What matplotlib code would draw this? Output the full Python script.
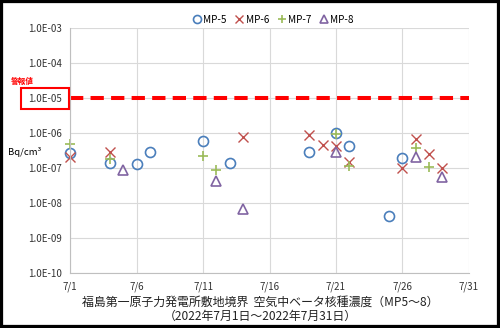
import numpy as np
import matplotlib
matplotlib.use("Agg")
import matplotlib.pyplot as plt
import matplotlib.patches as patches
from matplotlib.ticker import FixedLocator, FuncFormatter

plt.rcParams['font.family'] = ['Noto Sans CJK JP', 'DejaVu Sans']

# day of July and concentration (Bq/cm3) for each monitoring post
mp5_days = [1, 4, 6, 7, 11, 13, 19, 21, 22, 25, 26]
mp5_vals = [2.7e-7, 1.4e-7, 1.3e-7, 2.9e-7, 6.0e-7, 1.4e-7, 2.9e-7, 1.0e-6, 4.2e-7, 4.4e-9, 2.0e-7]
mp6_days = [1, 4, 14, 19, 20, 21, 22, 26, 27, 28, 29]
mp6_vals = [2.1e-7, 3.0e-7, 8.0e-7, 8.9e-7, 4.6e-7, 4.3e-7, 1.5e-7, 1.0e-7, 6.9e-7, 2.5e-7, 1.0e-7]
mp7_days = [1, 4, 11, 12, 21, 22, 27, 28]
mp7_vals = [4.9e-7, 1.9e-7, 2.2e-7, 8.9e-8, 9.5e-7, 1.2e-7, 3.7e-7, 1.1e-7]
mp8_days = [5, 12, 14, 21, 27, 29]
mp8_vals = [9.0e-8, 4.4e-8, 6.7e-9, 3.0e-7, 2.1e-7, 5.8e-8]

alarm_level = 1.0e-5
x_ticks = [1, 6, 11, 16, 21, 26, 31]
x_labels = ["7/%d" % d for d in x_ticks]
y_ticks = [1e-10, 1e-9, 1e-8, 1e-7, 1e-6, 1e-5, 1e-4, 1e-3]

fig = plt.figure(figsize=(5.0, 3.28), dpi=100)
ax = fig.add_axes([0.1406, 0.1668, 0.7968, 0.7469])

ms = 7.2
kw = dict(ls='none', ms=ms, clip_on=False)
ax.plot(mp5_days, mp5_vals, 'o', mfc='none', mec='#4A7EBB', mew=1.2, label='MP-5', **kw)
ax.plot(mp6_days, mp6_vals, 'x', mec='#C0504D', mew=1.0, label='MP-6', **kw)
ax.plot(mp7_days, mp7_vals, '+', mec='#9BBB59', mew=1.2, label='MP-7', **kw)
ax.plot(mp8_days, mp8_vals, '^', mfc='none', mec='#8064A2', mew=1.2, label='MP-8', **kw)

# alarm threshold
ax.axhline(alarm_level, color='#FF0000', lw=2.9, dashes=(3.3, 1.8), zorder=1)

ax.set_yscale('log')
ax.set_ylim(1e-10, 1e-3)
ax.set_xlim(1, 31)
ax.yaxis.set_major_locator(FixedLocator(y_ticks))
ax.yaxis.set_minor_locator(FixedLocator([]))
ax.yaxis.set_major_formatter(FuncFormatter(lambda v, p: "1.0E-%02d" % round(-np.log10(v))))
ax.set_xticks(x_ticks)
ax.set_xticklabels(x_labels)
ax.tick_params(length=0, labelsize=7, pad=6, labelcolor='#333333')
ax.grid(True, color='#D9D9D9', lw=0.8)
ax.set_axisbelow(True)
for side in ['top', 'right']:
    ax.spines[side].set_visible(False)
for side in ['left', 'bottom']:
    ax.spines[side].set_color('#BFBFBF')
    ax.spines[side].set_linewidth(0.8)

fig.text(0.016, 0.537, "Bq/cm³", fontsize=6.8, va='center', ha='left')
fig.text(0.022, 0.753, "警報値", fontsize=5.5, color='#FF0000', weight='bold', va='center', ha='left')
fig.patches.append(patches.Rectangle((0.042, 0.668), 0.096, 0.064, transform=fig.transFigure,
                                     fill=False, ec='#FF0000', lw=1.5))

fig.legend(loc='center', bbox_to_anchor=(0.545, 0.94), ncol=4, frameon=False, fontsize=7.2,
           handletextpad=0.1, columnspacing=0.7, handlelength=1.1, markerscale=0.8)

fig.text(0.52, 0.079, "福島第一原子力発電所敷地境界  空気中ベータ核種濃度（MP5～8）", fontsize=8.6,
         ha='center', va='center', color='#222222')
fig.text(0.52, 0.036, "（2022年7月1日～2022年7月31日）", fontsize=8.6, ha='center', va='center',
         color='#222222')

fig.patches.append(patches.Rectangle((0, 0), 1, 1, transform=fig.transFigure, fill=False,
                                     ec='black', lw=4.5))

fig.savefig("out.png", dpi=100)
